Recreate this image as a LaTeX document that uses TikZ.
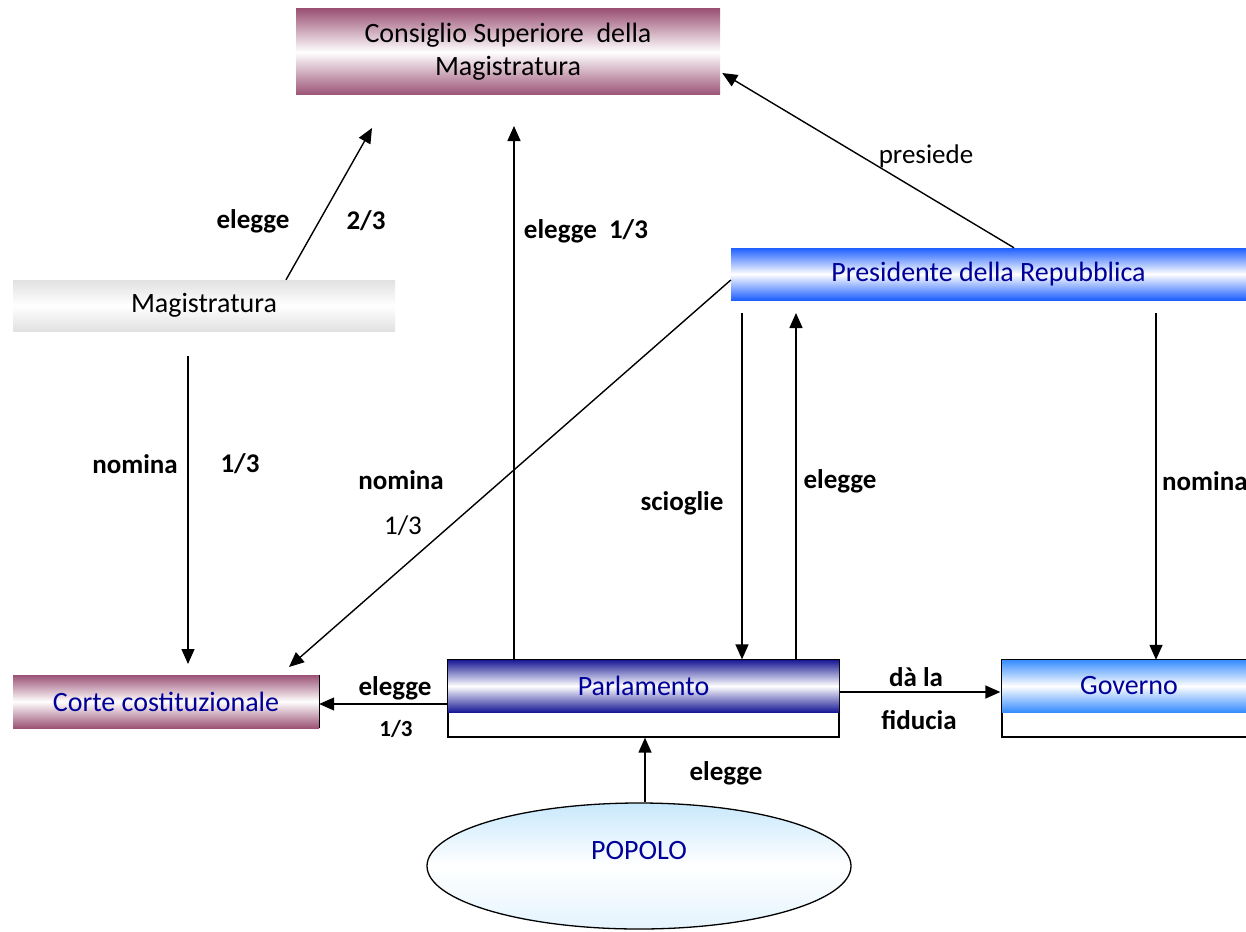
\documentclass[tikz,border=0pt]{standalone}
\usepackage{fontspec}
\setmainfont{Carlito}
\usetikzlibrary{arrows.meta,calc,shapes.geometric}

\definecolor{csmpurple}{RGB}{155,82,117}
\definecolor{maggray}{RGB}{225,225,225}
\definecolor{presblue}{RGB}{30,95,255}
\definecolor{parlblue}{RGB}{25,25,150}
\definecolor{govblue}{RGB}{55,140,255}
\definecolor{popblue}{RGB}{200,232,252}
\definecolor{txtblue}{RGB}{0,0,153}

\tikzset{
  gbox/.style={rectangle, draw=none, inner sep=0pt, align=center,
    font=\fontsize{28}{33}\selectfont},
  frame/.style={rectangle, draw=black, line width=1.3pt, inner sep=0pt},
  lab/.style={font=\fontsize{27}{30}\selectfont\bfseries, inner sep=0pt},
  plainlab/.style={font=\fontsize{27}{30}\selectfont, inner sep=0pt},
  arr/.style={-{Triangle[length=15pt,width=13pt]}, line width=1.4pt},
}

\begin{document}
\begin{tikzpicture}[x=1pt,y=-1pt]
\useasboundingbox (0,0) rectangle (1246,931);
\clip (0,0) rectangle (1246,931);

% outlined frames under the shaded headers
\node[frame, minimum width=391pt, minimum height=77pt] (parlframe) at (643.5,698.5) {};
\node[frame, minimum width=260pt, minimum height=77pt] (govframe) at (1132,698.5) {};

% shaded boxes
\node[gbox, minimum width=424pt, minimum height=86pt,
  top color=csmpurple, bottom color=csmpurple, middle color=white] (csm) at (508,52)
  {Consiglio Superiore\ \ della\\Magistratura};
\node[gbox, minimum width=382pt, minimum height=51pt,
  top color=maggray, bottom color=maggray, middle color=white] (mag) at (204,305.5)
  {Magistratura};
\node[gbox, minimum width=515pt, minimum height=52pt, text=txtblue,
  top color=presblue, bottom color=presblue, middle color=white] (pres) at (988.5,274)
  {Presidente della Repubblica};
\node[gbox, minimum width=306pt, minimum height=53pt, text=txtblue,
  top color=csmpurple, bottom color=csmpurple, middle color=white] (corte) at (166,701.5)
  {Corte costituzionale};
\draw[line width=1.3pt] (corte.north east) -- (corte.south east);
\node[gbox, minimum width=391pt, minimum height=52pt, text=txtblue,
  top color=parlblue, bottom color=parlblue, middle color=white] (parl) at (643.5,686)
  {Parlamento};
\node[gbox, minimum width=260pt, minimum height=52pt, text=txtblue,
  top color=govblue, bottom color=govblue, middle color=white] (gov) at (1132,686)
  {\hspace*{-6pt}Governo};
\node[ellipse, draw=black, line width=1.3pt, minimum width=424pt, minimum height=126pt,
  inner sep=0pt, text=txtblue, font=\fontsize{28}{33}\selectfont,
  top color=popblue, bottom color=popblue!50, middle color=white] (popolo) at (639,866)
  {\raisebox{32pt}{POPOLO}};

% free arrow ends
\coordinate (csmtipA) at (372,128);
\coordinate (csmtipB) at (514,126);
\coordinate (magfoot) at (188,356);
\coordinate (cortetipA) at (188,664);
\coordinate (cortetipB) at (289,667);
\coordinate (presfootA) at (742,313);
\coordinate (prestip) at (796,313);
\coordinate (presfootB) at (1156,313);

% connectors
\draw[arr] ($(mag.north)+(82,0)$) -- (csmtipA);
\draw[arr] ($(parlframe.north)+(-129.5,0)$) -- (csmtipB);
\draw[arr] ($(pres.north)+(25.5,0)$) -- ($(csm.east)+(2,21)$);
\draw[arr] (magfoot) -- (cortetipA);
\draw[arr] ($(pres.west)+(0,6)$) -- (cortetipB);
\draw[arr] (presfootA) -- ($(parlframe.north)+(98.5,0)$);
\draw[arr] ($(parlframe.north)+(152.5,0)$) -- (prestip);
\draw[arr] (presfootB) -- ($(gov.north)+(24,0)$);
\draw[arr] ($(parlframe.west)+(0,5.5)$) -- ($(corte.east)+(0,2.5)$);
\draw[arr] ($(parlframe.east)+(0,-6.5)$) -- ($(govframe.west)+(-1,-6.5)$);
\draw[arr] ($(popolo.north)+(6,0)$) -- ($(parlframe.south)+(1.5,0)$);

% labels
\node[lab] (l1) at (253,221) {elegge};
\node[lab] (l2) at (366,221) {2/3};
\node[lab] (l3) at (586,231) {elegge\ \ 1/3};
\node[plainlab] (l4) at (926,156) {presiede};
\node[lab] (l5) at (135,464) {nomina};
\node[lab] (l6) at (240,464) {1/3};
\node[lab] (l7) at (401,480) {nomina};
\node[plainlab] (l8) at (403,526) {1/3};
\node[lab] (l9) at (682,503) {scioglie};
\node[lab] (l10) at (840,481) {elegge};
\node[lab, anchor=west] (l11) at (1162,481) {nomina};
\node[lab] (l12) at (395,688) {elegge};
\node[lab, font=\fontsize{23}{26}\selectfont\bfseries] (l13) at (396,729) {1/3};
\node[lab] (l14) at (916,677) {dà la};
\node[lab] (l15) at (919,720) {fiducia};
\node[lab] (l16) at (726,773) {elegge};
\end{tikzpicture}
\end{document}
